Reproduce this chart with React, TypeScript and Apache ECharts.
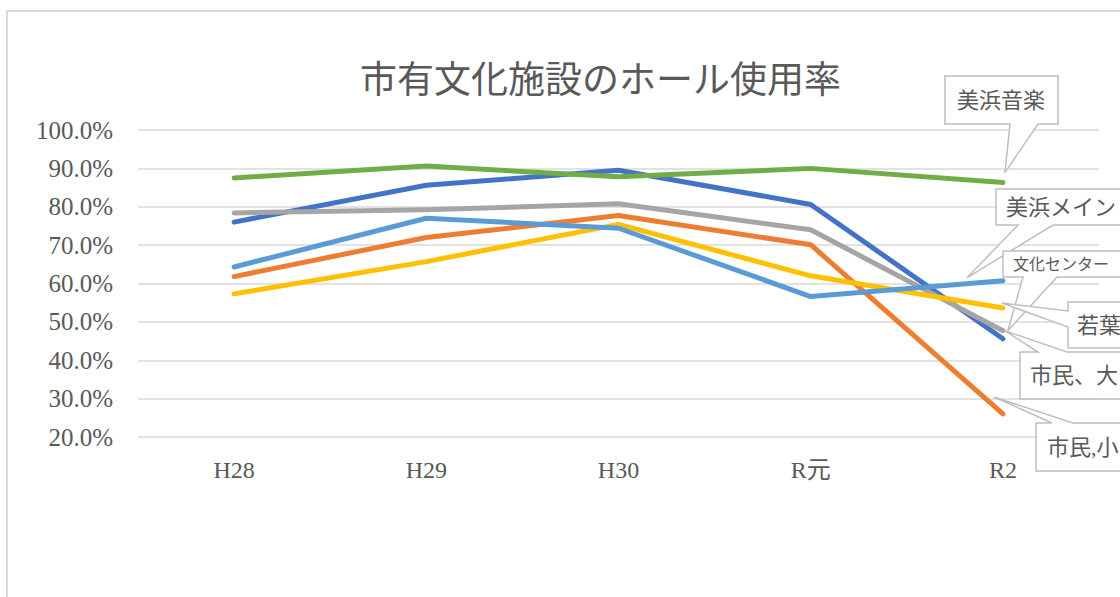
import React, { useEffect, useRef } from "react";
import * as echarts from "echarts";

const categories = ["H28", "H29", "H30", "R元", "R2"];
const yTicks = { min: 20, max: 100, interval: 10 };

const seriesNames = ["市民、大", "市民,小", "文化センター", "若葉", "美浜メイン", "美浜音楽"];
const seriesColors = ["#4472C4", "#ED7D31", "#A5A5A5", "#FFC000", "#5B9BD5", "#70AD47"];
const shiminDai = [76.0, 85.6, 89.5, 80.6, 45.6];
const shiminSho = [61.8, 72.0, 77.7, 70.1, 26.0];
const bunkaCenter = [78.4, 79.2, 80.8, 74.0, 47.7];
const wakaba = [57.3, 65.7, 75.4, 62.0, 53.6];
const mihamaMain = [64.3, 77.0, 74.4, 56.6, 60.7];
const mihamaOngaku = [87.5, 90.6, 87.8, 90.0, 86.3];
const seriesValues = [shiminDai, shiminSho, bunkaCenter, wakaba, mihamaMain, mihamaOngaku];

const TEXT = "#595959";
const FONT = "'Liberation Serif', 'Noto Sans CJK JP', serif";

// callout layout (box in px, pointer tip offset from the data point, wedge on an edge)
type Callout = {
  series: number;
  box: [number, number, number, number]; // L, T, R, B
  edge: "bottom" | "left" | "top";
  w: [number, number];
  tip: [number, number];
  fontSize: number;
  textX: number;
  align: "left" | "center";
};
const callouts: Callout[] = [
  { series: 5, box: [945, 76, 1058, 124], edge: "bottom", w: [1010, 1038], tip: [2, -10], fontSize: 22, textX: 1001, align: "center" },
  { series: 4, box: [996, 189, 1200, 225], edge: "bottom", w: [1018, 1053], tip: [-36, -3], fontSize: 22, textX: 1006, align: "left" },
  { series: 2, box: [1003, 251, 1200, 277], edge: "bottom", w: [1023, 1057], tip: [5, 0], fontSize: 16, textX: 1013, align: "left" },
  { series: 3, box: [1068, 302, 1200, 348], edge: "left", w: [311, 327], tip: [-1, -5], fontSize: 22, textX: 1077, align: "left" },
  { series: 0, box: [1020, 352, 1200, 399], edge: "top", w: [1038, 1067], tip: [2, -8], fontSize: 22, textX: 1030, align: "left" },
  { series: 1, box: [1036, 423, 1200, 471], edge: "top", w: [1052, 1073], tip: [-9, -17], fontSize: 22, textX: 1047, align: "left" },
];

function calloutPoints(c: Callout, tip: number[]): number[][] {
  const [L, T, R, B] = c.box;
  if (c.edge === "bottom") {
    return [[L, T], [R, T], [R, B], [c.w[1], B], tip, [c.w[0], B], [L, B]];
  }
  if (c.edge === "left") {
    return [[L, T], [R, T], [R, B], [L, B], [L, c.w[1]], tip, [L, c.w[0]]];
  }
  return [[L, T], [c.w[0], T], tip, [c.w[1], T], [R, T], [R, B], [L, B]];
}

export default function App() {
  const ref = useRef<HTMLDivElement>(null);
  useEffect(() => {
    document.body.style.margin = "0";
    const chart = echarts.init(ref.current!, undefined, { renderer: "svg" });
    const option: any = {
      animation: false,
      backgroundColor: "#ffffff",
      title: {
        text: "市有文化施設のホール使用率",
        left: 355,
        top: 53,
        textStyle: { fontFamily: "'Noto Sans CJK JP'", fontSize: 37, fontWeight: "normal", color: TEXT },
      },
      grid: { left: 138, right: 21, top: 130, bottom: 160, containLabel: false },
      xAxis: {
        type: "category",
        data: categories,
        boundaryGap: true,
        axisLine: { show: false },
        axisTick: { show: false },
        axisLabel: { color: TEXT, fontFamily: FONT, fontSize: 24, margin: 21 },
      },
      yAxis: {
        type: "value",
        min: yTicks.min,
        max: yTicks.max,
        interval: yTicks.interval,
        axisLine: { show: false },
        axisTick: { show: false },
        axisLabel: {
          color: TEXT,
          fontFamily: FONT,
          fontSize: 25,
          margin: 25,
          formatter: (v: number) => v.toFixed(1) + "%",
        },
        splitLine: { lineStyle: { color: "#d9d9d9", width: 1.5 } },
      },
      series: seriesNames.map((name, i) => ({
        name,
        type: "line",
        data: seriesValues[i],
        symbol: "none",
        lineStyle: { color: seriesColors[i], width: 5, cap: "round", join: "round" },
        itemStyle: { color: seriesColors[i] },
        z: 2 + i,
      })),
    };
    chart.setOption(option);

    const elements: any[] = [
      {
        type: "rect",
        shape: { x: 7, y: 11, width: 1300, height: 800 },
        style: { fill: "none", stroke: "#d9d9d9", lineWidth: 2 },
        z: 0,
        silent: true,
      },
    ];
    callouts.forEach((c) => {
      const vals = seriesValues[c.series];
      const p = chart.convertToPixel({ seriesIndex: c.series }, [categories.length - 1, vals[vals.length - 1]]) as number[];
      const tip = [p[0] + c.tip[0], p[1] + c.tip[1]];
      elements.push({
        type: "polygon",
        shape: { points: calloutPoints(c, tip) },
        style: { fill: "#ffffff", stroke: "#bfbfbf", lineWidth: 1.5 },
        z: 50,
      });
      elements.push({
        type: "text",
        x: c.textX,
        y: (c.box[1] + c.box[3]) / 2,
        style: {
          text: seriesNames[c.series],
          fill: TEXT,
          fontFamily: FONT,
          fontSize: c.fontSize,
          align: c.align,
          verticalAlign: "middle",
        },
        z: 51,
      });
    });
    chart.setOption({ graphic: { elements } });

    return () => chart.dispose();
  }, []);
  return <div ref={ref} style={{ width: 1120, height: 597, position: "absolute", left: 0, top: 0 }} />;
}
